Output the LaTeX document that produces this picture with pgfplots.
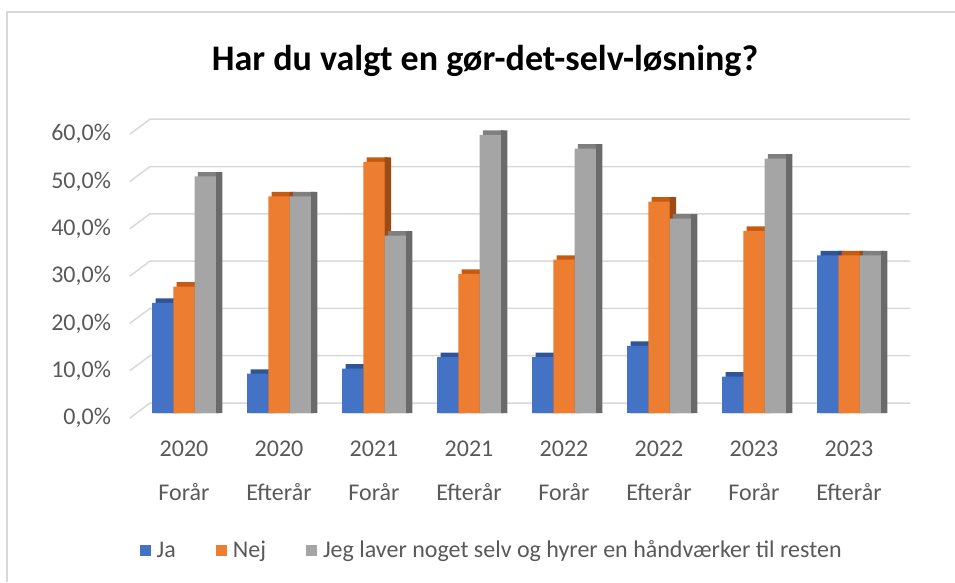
\documentclass[border=0pt]{standalone}
\usepackage{pgfplots}
\pgfplotsset{compat=1.18}
\usepackage{pgfplotstable}
\usepackage{fontspec}
\setmainfont{Carlito}
\definecolor{cblue}{HTML}{4472C4}
\definecolor{corange}{HTML}{ED7D31}
\definecolor{cgray}{HTML}{A5A5A5}
\definecolor{bluetop}{HTML}{2F5597}
\definecolor{blueside}{HTML}{2A4A85}
\definecolor{orangetop}{HTML}{C55A11}
\definecolor{orangeside}{HTML}{9C4A16}
\definecolor{graytop}{HTML}{7F7F7F}
\definecolor{grayside}{HTML}{6A6A6A}
\definecolor{gridc}{HTML}{D9D9D9}
\definecolor{textgray}{HTML}{595959}
\pgfplotsset{legsq/.style={legend image code/.code={\fill[##1] (0pt,-5.5pt) rectangle (11pt,5.5pt); \path (0pt,0pt) -- (15pt,0pt);}}}
\pgfplotstableread{
x ja nej jeg
0 23.3 26.7 50.0
1 8.3 45.8 45.8
2 9.4 53.1 37.5
3 11.8 29.4 58.8
4 11.8 32.4 55.9
5 14.2 44.7 41.1
6 7.7 38.5 53.8
7 33.3 33.3 33.3
}\data
\begin{document}
\begin{tikzpicture}[x=1pt,y=1pt]
\path[use as bounding box] (0,0) rectangle (955,582);
\draw[color=gridc, line width=1.2pt] (7,0) -- (7,570) -- (955,570);
\node[font=\fontsize{36}{42}\selectfont\bfseries] at (485,521) {Har du valgt en gør-det-selv-løsning?};
\begin{axis}[
  x=95pt, y=4.73pt,
  anchor=origin, at={(184pt,169pt)},
  xmin=-0.5, xmax=7.5, ymin=0, ymax=60,
  clip=false,
  axis line style={draw=none},
  major tick length=0pt,
  /pgf/number format/assume math mode=true,
  ytick={0,10,20,30,40,50,60},
  yticklabel={\pgfmathprintnumber[fixed,fixed zerofill,precision=1,use comma]{\tick}\%},
  yticklabel style={anchor=east, xshift=-22pt, yshift=-5pt, font=\fontsize{24}{28}\selectfont, text=textgray},
  xtick={0,1,2,3,4,5,6,7},
  xticklabels={{2020\\Forår},{2020\\Efterår},{2021\\Forår},{2021\\Efterår},{2022\\Forår},{2022\\Efterår},{2023\\Forår},{2023\\Efterår}},
  xticklabel style={align=center, anchor=north, yshift=-24pt, font=\fontsize{24}{44}\selectfont, text=textgray},
  legend style={at={(0,-0.483)}, anchor=west, draw=none, fill=none, legend columns=3,
    font=\fontsize{24}{28}\selectfont, text=textgray,
    /tikz/every even column/.append style={column sep=38pt}},
  legend cell align=left,
]
% back wall gridlines
\addplot[gridc, line width=1.5pt, forget plot] coordinates {(-0.5705,-1.06) (-0.358,2.11) (7.642,2.11)};
\addplot[gridc, line width=1.5pt, forget plot] coordinates {(-0.5705,8.94) (-0.358,12.11) (7.642,12.11)};
\addplot[gridc, line width=1.5pt, forget plot] coordinates {(-0.5705,18.94) (-0.358,22.11) (7.642,22.11)};
\addplot[gridc, line width=1.5pt, forget plot] coordinates {(-0.5705,28.94) (-0.358,32.11) (7.642,32.11)};
\addplot[gridc, line width=1.5pt, forget plot] coordinates {(-0.5705,38.94) (-0.358,42.11) (7.642,42.11)};
\addplot[gridc, line width=1.5pt, forget plot] coordinates {(-0.5705,48.94) (-0.358,52.11) (7.642,52.11)};
\addplot[gridc, line width=1.5pt, forget plot] coordinates {(-0.5705,58.94) (-0.358,62.11) (7.642,62.11)};
% 3D tops and sides
\addplot[ybar, bar width=21.2pt, bar shift=-17.9pt, fill=bluetop, draw=none, forget plot] table[x=x, y expr=\thisrow{ja}+0.95]{\data};
\addplot[ybar, bar width=6.6pt, bar shift=-7.3pt, fill=blueside, draw=none, forget plot] table[x=x, y expr=\thisrow{ja}+0.95]{\data};
\addplot[ybar, bar width=21.2pt, bar shift=3.3pt, fill=orangetop, draw=none, forget plot] table[x=x, y expr=\thisrow{nej}+0.95]{\data};
\addplot[ybar, bar width=6.6pt, bar shift=13.9pt, fill=orangeside, draw=none, forget plot] table[x=x, y expr=\thisrow{nej}+0.95]{\data};
\addplot[ybar, bar width=21.2pt, bar shift=24.5pt, fill=graytop, draw=none, forget plot] table[x=x, y expr=\thisrow{jeg}+0.95]{\data};
\addplot[ybar, bar width=6.6pt, bar shift=35.1pt, fill=grayside, draw=none, forget plot] table[x=x, y expr=\thisrow{jeg}+0.95]{\data};
% front faces
\addplot[ybar, bar width=21.2pt, bar shift=-21.2pt, fill=cblue, draw=none, legsq] table[x=x, y=ja]{\data};
\addplot[ybar, bar width=21.2pt, bar shift=0pt, fill=corange, draw=none, legsq] table[x=x, y=nej]{\data};
\addplot[ybar, bar width=21.2pt, bar shift=21.2pt, fill=cgray, draw=none, legsq] table[x=x, y=jeg]{\data};
\legend{Ja, Nej, Jeg laver noget selv og hyrer en håndværker til resten}
\end{axis}
\end{tikzpicture}
\end{document}
